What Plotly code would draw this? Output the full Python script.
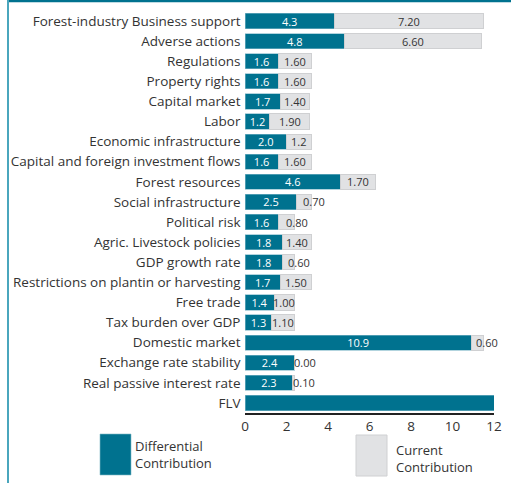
import plotly.graph_objects as go

# Factors, listed top to bottom
factors = [
    "Forest-industry Business support", "Adverse actions", "Regulations",
    "Property rights", "Capital market", "Labor", "Economic infrastructure",
    "Capital and foreign investment flows", "Forest resources",
    "Social infrastructure", "Political risk", "Agric. Livestock policies",
    "GDP growth rate", "Restrictions on plantin or harvesting", "Free trade",
    "Tax burden over GDP", "Domestic market", "Exchange rate stability",
    "Real passive interest rate", "FLV",
]
differential = [4.3, 4.8, 1.6, 1.6, 1.7, 1.2, 2.0, 1.6, 4.6, 2.5, 1.6, 1.8,
                1.8, 1.7, 1.4, 1.3, 10.9, 2.4, 2.3, 12.0]
current = [7.20, 6.60, 1.60, 1.60, 1.40, 1.90, 1.2, 1.60, 1.70, 0.70, 0.80,
           1.40, 0.60, 1.50, 1.00, 1.10, 0.60, 0.00, 0.10, None]
current_labels = ["7.20", "6.60", "1.60", "1.60", "1.40", "1.90", "1.2",
                  "1.60", "1.70", "0.70", "0.80", "1.40", "0.60", "1.50",
                  "1.00", "1.10", "0.60", "0.00", "0.10", ""]
diff_labels = [f"{v:.1f}" for v in differential[:-1]] + [""]
x_ticks = [0, 2, 4, 6, 8, 10, 12]

TEAL = "#00728f"
GRAY = "#e1e2e4"
FONT = "Open Sans"

fig = go.Figure()
fig.add_trace(go.Bar(
    y=factors, x=differential, orientation="h", name="Differential Contribution",
    marker=dict(color=TEAL, line=dict(color="#7fb8c8", width=0.6)),
    text=diff_labels, textposition="inside", insidetextanchor="middle",
    textfont=dict(color="white", size=11, family=FONT),
))
fig.add_trace(go.Bar(
    y=factors, x=[c if c is not None else 0 for c in current], orientation="h",
    name="Current Contribution",
    marker=dict(color=GRAY, line=dict(color="#cfd0d2", width=1)),
))

# Value labels for the current contribution segments
for f, d, c, lab in zip(factors, differential, current, current_labels):
    if not lab:
        continue
    mid = d + c / 2
    narrow = c < 1.0
    fig.add_annotation(
        x=mid, y=f, text=lab, showarrow=False,
        xanchor="left" if narrow else "center", xshift=-3 if narrow else 0,
        font=dict(color="#333333", size=11, family=FONT),
    )

# Legend drawn as swatches below the axis
def px_x(p):
    return (p - 245) / 249

def px_y(p):
    return (413 - p) / 402

fig.add_shape(type="rect", xref="paper", yref="paper",
              x0=px_x(100), x1=px_x(131), y0=px_y(475), y1=px_y(434),
              fillcolor=TEAL, line=dict(color="#7fb8c8", width=0.6))
fig.add_shape(type="rect", xref="paper", yref="paper",
              x0=px_x(356), x1=px_x(387), y0=px_y(476), y1=px_y(435),
              fillcolor=GRAY, line=dict(color="#cfd0d2", width=1))
fig.add_annotation(xref="paper", yref="paper", x=px_x(133), y=px_y(454),
                   text="Differential<br>Contribution", showarrow=False,
                   xanchor="left", yanchor="middle", align="left",
                   font=dict(size=13, color="#333333", family=FONT))
fig.add_annotation(xref="paper", yref="paper", x=px_x(394), y=px_y(458),
                   text="Current<br>Contribution", showarrow=False,
                   xanchor="left", yanchor="middle", align="left",
                   font=dict(size=13, color="#333333", family=FONT))

# Frame lines
fig.add_shape(type="line", xref="paper", yref="paper",
              x0=px_x(7), x1=px_x(511), y0=px_y(1), y1=px_y(1),
              line=dict(color="#00728f", width=2.5))
fig.add_shape(type="line", xref="paper", yref="paper",
              x0=px_x(8), x1=px_x(8), y0=px_y(0), y1=px_y(483),
              line=dict(color="#4aa6bd", width=2))

fig.update_layout(
    barmode="stack", bargap=0.24, showlegend=False,
    width=511, height=483,
    margin=dict(l=245, r=17, t=11, b=70),
    plot_bgcolor="white", paper_bgcolor="white",
    font=dict(family=FONT, color="#333333"),
    uniformtext=dict(minsize=11, mode="show"),
    xaxis=dict(range=[0, 12], tickvals=x_ticks, showgrid=False,
               zeroline=False, showline=True, linecolor="#222222",
               linewidth=2, ticks="", tickfont=dict(size=13.5),
               automargin=False),
    yaxis=dict(autorange="reversed", showgrid=False, zeroline=False,
               ticks="", ticksuffix=" ", tickfont=dict(size=13.5),
               automargin=False),
)

fig.write_html("out.html")
